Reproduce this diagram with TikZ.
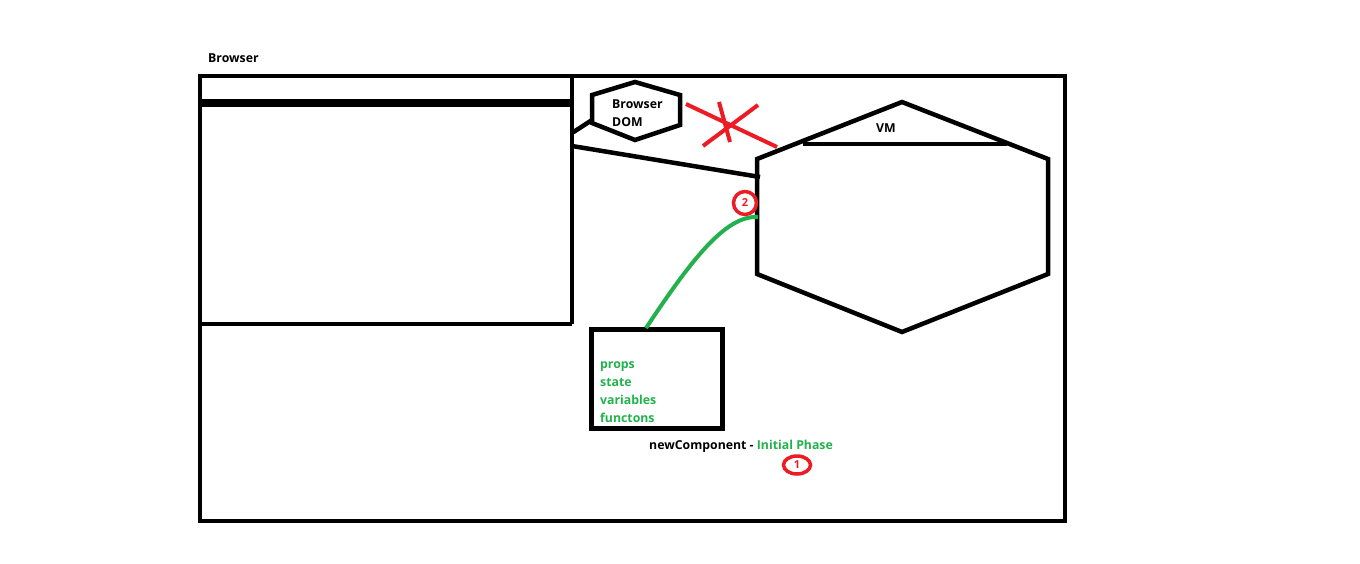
\documentclass[tikz,border=0pt]{standalone}
\usepackage{fontspec}
\usetikzlibrary{shapes.geometric}
\setmainfont{Open Sans}
\definecolor{pgreen}{RGB}{34,177,76}
\definecolor{pred}{RGB}{237,28,36}
\begin{document}
\begin{tikzpicture}[x=1pt,y=-1pt,
  thick line/.style={line width=4.5pt,line join=miter},
  lbl/.style={font=\fontsize{12.3}{14}\selectfont\bfseries,inner sep=0pt},
  redline/.style={pred,line width=4pt},
  circ/.style={draw=pred,line width=3.5pt,text=pred,inner sep=0pt,font=\fontsize{11}{12}\selectfont\bfseries}]
\useasboundingbox (0,0) rectangle (1360,563);
% outer browser frame
\draw[thick line] (200,76) rectangle (1065,521);
\node[lbl,anchor=west] (browser) at (208,58) {Browser};
% inner window
\draw[thick line] (572,74) -- (572,324);
\draw[thick line] (198,324) -- (572,324);
\draw[line width=8pt] (200,103) -- (572,103);
% Browser DOM hexagon
\draw[thick line] (592,95) -- (635,82) -- (680,95) -- (680,125) -- (635,140) -- (592,123) -- cycle;
\node[lbl,anchor=west,align=left,font=\fontsize{12.3}{18}\selectfont\bfseries] (dom) at (612,113) {Browser\\DOM};
\coordinate (domc) at (592,120);
\coordinate (winr) at (572,133);
\draw[thick line] (winr) -- (domc);
% VM hexagon
\coordinate (vt) at (902,102);
\coordinate (vrt) at (1048,159);
\coordinate (vrb) at (1048,274);
\coordinate (vb) at (902,332);
\coordinate (vlb) at (757,274);
\coordinate (vlt) at (757,159);
\draw[thick line] (vt) -- (vrt) -- (vrb) -- (vb) -- (vlb) -- (vlt) -- cycle;
\draw[thick line] (803,144) -- (1007,144);
\node[lbl] (vm) at (886,128) {VM};
% connector from window to VM
\coordinate (wl) at (572,146);
\coordinate (vml) at (760,177);
\draw[thick line] (wl) -- (vml);
% red star
\draw[redline] (686,104) -- (777,147);
\draw[redline] (703,146) -- (758,105);
\draw[redline] (719,102) -- (730,142);
% circle 2
\node[circ,circle,minimum size=23pt] (c2) at (745,203) {2};
% component box
\node[draw,thick line,minimum width=131pt,minimum height=99pt,inner sep=0pt] (comp) at (657,379) {};
\node[lbl,anchor=north west,align=left,text=pgreen,font=\fontsize{12.3}{18}\selectfont\bfseries] (props) at (600,361) {props\\state\\variables\\functons};
% green curve
\coordinate (gs) at (646,328);
\coordinate (ge) at (758,217);
\draw[pgreen,line width=4pt] (gs) .. controls (690,262) and (725,215) .. (ge);
% caption
\node[lbl,anchor=west] (cap) at (649,446) {newComponent - \textcolor{pgreen}{Initial Phase}};
\node[circ,ellipse,minimum width=27pt,minimum height=18pt] (c1) at (797,465) {1};
\end{tikzpicture}
\end{document}
